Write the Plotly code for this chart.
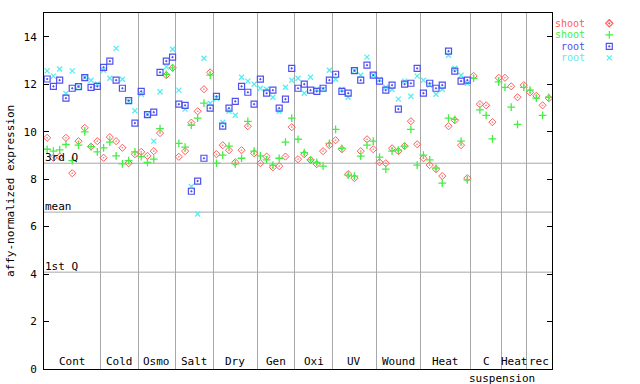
import plotly.graph_objects as go

# ---- data -------------------------------------------------------------
groups = ["Cont", "Cold", "Osmo", "Salt", "Dry", "Gen", "Oxi", "UV",
          "Wound", "Heat", "C", "Heat", "rec"]
group_sizes = [9, 6, 6, 6, 7, 6, 6, 7, 7, 8, 5, 4, 4]

shoot_red = [9.74, 8.90, 8.95, 9.74, 8.25, 9.60, 10.16, 9.37, 9.60,
             8.90, 9.77, 9.60, 9.32, 8.67, 9.05,
             9.15, 8.98, 9.18, 9.94, 12.38, 12.69,
             8.94, 9.18, 10.38, 10.86, 11.79, 12.50,
             9.05, 9.43, 9.22, 8.71, 9.22, 10.23, 9.09,
             8.67, 8.95, 8.50, 8.55, 8.95, 10.19,
             8.84, 9.05, 8.81, 8.63, 9.18, 9.43,
             9.64, 9.26, 8.21, 8.04, 9.18, 9.68, 9.26,
             8.71, 8.67, 9.30, 9.18, 9.39, 10.44, 9.47,
             8.88, 8.59, 8.42, 8.13, 10.23, 10.48, 9.43, 8.04,
             12.35, 11.16, 11.11, 10.40, 12.27,
             12.27, 11.91, 11.45, 11.96,
             11.66, 11.51, 11.11, 11.41]

shoot_green = [9.26, 9.18, 9.23, 9.46, 8.78, 9.43, 9.99, 9.37, 9.15,
               9.32, 9.56, 8.98, 8.64, 8.78, 9.15,
               8.95, 8.70, 8.84, 10.13, 12.41, 12.69,
               9.51, 9.35, 10.27, 10.57, 11.20, 12.38,
               8.67, 9.01, 9.39, 8.64, 8.88, 10.43, 9.18,
               8.98, 8.81, 8.59, 8.88, 9.56, 10.57,
               9.68, 9.12, 8.81, 8.71, 8.55, 9.51,
               10.10, 9.30, 8.17, 8.13, 8.97, 9.43, 9.60,
               8.93, 8.42, 9.18, 9.22, 9.39, 10.10, 8.59,
               9.01, 8.81, 8.46, 7.83, 10.57, 10.52, 9.60, 7.97,
               12.25, 10.92, 10.69, 9.70, 12.10,
               11.87, 11.03, 10.31, 11.87,
               11.75, 11.41, 10.69, 11.45]

root_blue = [12.22, 11.91, 12.17, 11.41, 11.83, 11.90, 12.28, 11.87, 11.91,
             12.71, 12.97, 12.17, 11.83, 11.31, 10.36,
             11.70, 10.72, 10.82, 12.50, 12.97, 13.14,
             11.16, 11.11, 7.49, 7.92, 8.88, 10.99,
             11.49, 10.23, 10.99, 11.28, 11.91, 11.66, 11.16,
             12.21, 11.62, 11.75, 10.99, 11.37, 12.67,
             11.83, 12.00, 11.75, 11.70, 11.83, 12.17,
             12.42, 11.70, 11.62, 12.57, 12.17, 12.80, 12.38,
             12.13, 11.75, 11.96, 10.95, 12.00, 12.04, 12.67,
             11.62, 12.04, 11.83, 11.96, 13.39, 12.55, 12.13, 12.17,
             None, None, None, None, None,
             None, None, None, None,
             None, None, None, None]

root_cyan = [12.56, 12.34, 12.64, 11.61, 12.56, 11.91, 12.28, 12.17, 12.01,
             12.59, 12.25, 13.51, 12.21, 11.27, 10.88,
             11.58, 10.72, 9.60, 11.68, 12.73, 13.47,
             11.75, 10.95, 7.69, 6.53, 13.09, 11.20,
             11.41, 10.40, 10.86, 10.69, 12.29, 12.13, 12.00,
             11.83, 11.79, 11.45, 10.86, 11.87, 12.17,
             12.25, 11.62, 12.29, 11.79, 11.79, 12.59,
             12.21, 11.79, 11.45, 12.57, 12.38, 13.14, 12.38,
             12.21, 11.87, 11.79, 11.37, 12.13, 11.49, 12.34,
             12.17, 11.96, 11.58, 11.79, 13.22, 12.67, 12.38, 12.04,
             None, None, None, None, None,
             None, None, None, None,
             None, None, None, None]

q_labels = ["3rd Q", "mean", "1st Q"]
q_values = [8.67, 6.61, 4.08]

y_ticks = [0, 2, 4, 6, 8, 10, 12, 14]

legend_names = ["shoot", "shoot", "root", "root"]

# ---- style ------------------------------------------------------------
FONT = "DejaVu Sans Mono"
RED, GREEN, BLUE, CYAN = "#ff5a5a", "#44ee44", "#5050f0", "#55eef0"
GRID = "#a8a8a8"

# plot area spans 44..552 px of a 596 px wide area (left margin 44)
PLOT_FRAC = 508 / 596

n = sum(group_sizes)
xs = list(range(n))

series = [
    (shoot_red, RED, "diamond-open-dot", 5.5, 1),
    (shoot_green, GREEN, "cross-thin-open", 5.5, 1.3),
    (root_cyan, CYAN, "x-thin-open", 5, 1.3),
    (root_blue, BLUE, "square-open-dot", 6, 1.2),
]

fig = go.Figure()
for vals, col, sym, size, lw in series:
    fig.add_trace(go.Scatter(
        x=xs, y=vals, mode="markers", showlegend=False,
        marker=dict(symbol=sym, size=size, color=col,
                    line=dict(color=col, width=lw)),
        hoverinfo="y"))

# group boundaries & centres
bounds, centres = [], []
start = 0
for s in group_sizes:
    centres.append(start + (s - 1) / 2)
    start += s
    bounds.append(start - 0.5)

annotations = []
for g, c in zip(groups, centres):
    annotations.append(dict(x=c, y=0, xref="x", yref="y", text=g,
                            showarrow=False, yanchor="bottom", yshift=-1,
                            font=dict(family=FONT, size=11, color="black")))
annotations.append(dict(x=bounds[10], y=0, xref="x", yref="y",
                        text="suspension", showarrow=False, yanchor="top",
                        yshift=-1,
                        font=dict(family=FONT, size=11, color="black")))

shapes = []
for lab, v in zip(q_labels, q_values):
    shapes.append(dict(type="line", xref="x", yref="y", x0=-0.5, x1=n - 0.5,
                       y0=v, y1=v, line=dict(color=GRID, width=1),
                       layer="below"))
    annotations.append(dict(x=-0.5, y=v, xref="x", yref="y", text=lab,
                            showarrow=False, xanchor="left", yanchor="bottom",
                            xshift=-1, yshift=-3,
                            font=dict(family=FONT, size=11, color="black")))

# y-axis title
annotations.append(dict(x=-34 / 596, y=0.5, xref="paper", yref="paper",
                        text="affy-normalized expression", textangle=-90,
                        showarrow=False, xanchor="center", yanchor="middle",
                        font=dict(family=FONT, size=11, color="black")))

# custom legend (text right-aligned, key to the right) on its own axes
# y2 is in pixels from the top of the plot area
leg_cols = [RED, GREEN, BLUE, CYAN]
leg_syms = ["diamond-open-dot", "cross-thin-open", "square-open-dot", "x-thin-open"]
leg_sizes = [5.5, 5.5, 6, 5]
leg_rows = [10.3, 21.8, 33.3, 44.8]
for nm, col, sym, sz, r in zip(legend_names, leg_cols, leg_syms, leg_sizes, leg_rows):
    annotations.append(dict(x=33.7, y=r, xref="x2", yref="y2", text=nm,
                            showarrow=False, xanchor="right", yanchor="middle",
                            borderpad=0,
                            font=dict(family=FONT, size=10, color=col)))
    fig.add_trace(go.Scatter(
        x=[57.3], y=[r], xaxis="x2", yaxis="y2", mode="markers",
        showlegend=False, hoverinfo="skip",
        marker=dict(symbol=sym, size=sz, color=col,
                    line=dict(color=col, width=1.2))))

fig.update_layout(
    width=640, height=384,
    margin=dict(l=44, r=0, t=13, b=15),
    paper_bgcolor="white", plot_bgcolor="white",
    showlegend=False,
    font=dict(family=FONT, size=11, color="black"),
    shapes=shapes, annotations=annotations,
    xaxis=dict(domain=[0, PLOT_FRAC], range=[-0.5, n - 0.5], tickvals=bounds,
               showticklabels=False, ticks="", showgrid=True, gridcolor=GRID,
               gridwidth=1, zeroline=False, showline=True, linecolor="black",
               linewidth=1, mirror=True),
    yaxis=dict(range=[0, 15], tickvals=y_ticks, ticks="inside", ticklen=5,
               tickcolor="black", showgrid=False, zeroline=False,
               showline=True, linecolor="black", linewidth=1, mirror="ticks",
               ticklabelstandoff=4,
               tickfont=dict(family=FONT, size=11, color="black")),
    # legend axes: pixel units relative to the plot's right/top edges
    xaxis2=dict(domain=[PLOT_FRAC, 1], range=[0, 88], visible=False,
                anchor="y2", fixedrange=True),
    yaxis2=dict(domain=[0, 1], range=[356, 0], visible=False,
                anchor="x2", fixedrange=True),
)

fig.write_html("out.html")
